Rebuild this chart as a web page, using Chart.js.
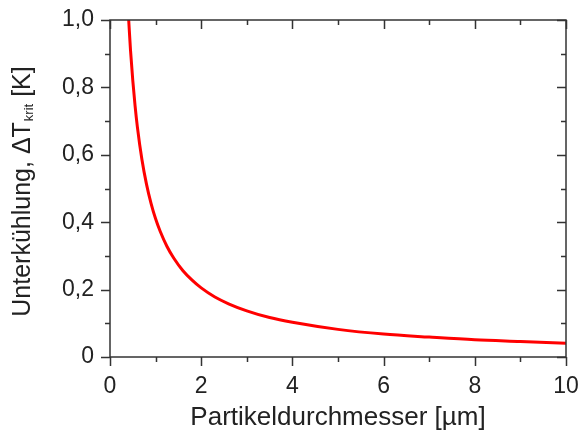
<!DOCTYPE html>
<html>
<head>
<meta charset="utf-8">
<script src="https://cdn.jsdelivr.net/npm/chart.js@4"></script>
<style>
  body { margin: 0; background: #fff; }
</style>
</head>
<body>
<canvas id="myChart" width="581" height="437"></canvas>
<script>
// Data
const durchmesser = [0.41, 0.45, 0.5, 0.55, 0.6, 0.7, 0.8, 0.9, 1.0, 1.1, 1.25, 1.4, 1.6, 1.8, 2.0, 2.3, 2.6, 3.0, 3.5, 4.0, 5.0, 6.0, 7.0, 8.0, 9.0, 10.0];
const unterkuehlung = [1.0, 0.91, 0.82, 0.745, 0.683, 0.586, 0.513, 0.456, 0.41, 0.373, 0.328, 0.293, 0.256, 0.228, 0.205, 0.178, 0.158, 0.137, 0.117, 0.103, 0.082, 0.068, 0.059, 0.051, 0.046, 0.041];
const xTicks = [0, 2, 4, 6, 8, 10];
const yTicks = [0, 0.2, 0.4, 0.6, 0.8, 1.0];
const yTickLabels = ['0', '0,2', '0,4', '0,6', '0,8', '1,0'];

const fontFam = '"Liberation Sans", Arial, sans-serif';

// Frame, ticks and y title
const framePlugin = {
  id: 'frame',
  afterDraw(chart) {
    const c = chart.ctx, a = chart.chartArea;
    const xs = chart.scales.x, ys = chart.scales.y;
    c.save();
    c.strokeStyle = '#333';
    c.lineWidth = 1.5;
    c.strokeRect(a.left, a.top, a.right - a.left, a.bottom - a.top);
    c.beginPath();
    for (let v = 0; v <= 10; v += 1) {
      const p = Math.round(xs.getPixelForValue(v)) + 0.5;
      const len = v % 2 === 0 ? 9 : 5;
      c.moveTo(p, a.bottom); c.lineTo(p, a.bottom + len);
      c.moveTo(p, a.top); c.lineTo(p, a.top + len);
    }
    for (let i = 0; i <= 10; i++) {
      const v = i / 10;
      const p = Math.round(ys.getPixelForValue(v)) + 0.5;
      const len = i % 2 === 0 ? 9 : 5;
      c.moveTo(a.left, p); c.lineTo(a.left - len, p);
      c.moveTo(a.right, p); c.lineTo(a.right - len, p);
    }
    c.stroke();

    // y axis title with subscript
    c.translate(30, 192);
    c.rotate(-Math.PI / 2);
    c.fillStyle = '#222';
    c.textBaseline = 'alphabetic';
    const p1 = 'Unterkühlung, ΔT', sub = 'krit', p2 = ' [K]';
    c.font = '25px ' + fontFam;
    const w1 = c.measureText(p1).width, w3 = c.measureText(p2).width;
    c.font = '13px ' + fontFam;
    const w2 = c.measureText(sub).width;
    let x = -(w1 + w2 + w3) / 2;
    c.font = '25px ' + fontFam;
    c.fillText(p1, x, 0);
    x += w1 + 1;
    c.font = '13px ' + fontFam;
    c.fillText(sub, x, 3);
    x += w2;
    c.font = '25px ' + fontFam;
    c.fillText(p2, x, 0);
    c.restore();
  }
};

const ctx = document.getElementById('myChart');
new Chart(ctx, {
  type: 'line',
  data: {
    datasets: [{
      data: durchmesser.map((d, i) => ({ x: d, y: unterkuehlung[i] })),
      borderColor: '#ff0000',
      borderWidth: 3,
      pointRadius: 0,
      cubicInterpolationMode: 'monotone',
      fill: false
    }]
  },
  options: {
    responsive: false,
    animation: false,
    layout: { padding: { top: 20, right: 15, left: 0, bottom: 0 } },
    plugins: { legend: { display: false }, tooltip: { enabled: false } },
    scales: {
      x: {
        type: 'linear',
        min: 0, max: 10,
        grid: { display: false },
        border: { display: false },
        afterBuildTicks: s => { s.ticks = xTicks.map(v => ({ value: v })); },
        afterFit: s => { s.height = 80; s.paddingLeft = 0; s.paddingRight = 0; },
        ticks: { color: '#222', font: { size: 23, family: fontFam }, padding: 8, maxRotation: 0 },
        title: { display: true, text: 'Partikeldurchmesser [µm]', color: '#222', font: { size: 26, family: fontFam }, padding: { top: 6 } }
      },
      y: {
        type: 'linear',
        min: 0, max: 1,
        grid: { display: false },
        border: { display: false },
        afterBuildTicks: s => { s.ticks = yTicks.map(v => ({ value: v })); },
        afterFit: s => { s.width = 110; s.paddingTop = 0; s.paddingBottom = 0; },
        ticks: {
          color: '#222', font: { size: 23, family: fontFam }, padding: 8,
          callback: (v) => yTickLabels[yTicks.findIndex(t => Math.abs(t - v) < 1e-6)]
        }
      }
    }
  },
  plugins: [framePlugin]
});
</script>
</body>
</html>
